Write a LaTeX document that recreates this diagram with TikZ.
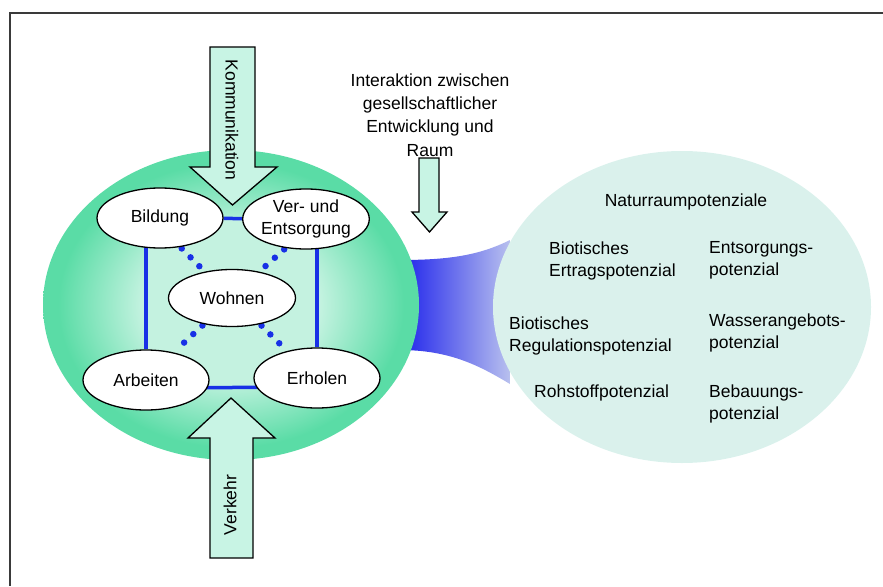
\documentclass[tikz,border=0pt]{standalone}
\usepackage{fontspec}
\setmainfont{Liberation Sans}
\usetikzlibrary{positioning, calc, shapes.geometric, backgrounds}
\definecolor{RaumGreen}{HTML}{5ADCA6}
\definecolor{RaumMint}{HTML}{CBF4E4}
\definecolor{RaumInner}{HTML}{C4F2E0}
\definecolor{RaumPale}{HTML}{DAF1EC}
\definecolor{ArrowMint}{HTML}{C8F4E4}
\definecolor{LinkBlue}{HTML}{1830E6}
\definecolor{BridgeBlue}{HTML}{1E22EC}
\definecolor{BridgeFade}{HTML}{B8C0EE}
\definecolor{FrameGray}{HTML}{3A3A3A}
\pgfdeclareradialshading{raumglow}{\pgfpoint{0bp}{0bp}}{color(0bp)=(RaumMint); color(11bp)=(RaumMint); color(23bp)=(RaumGreen); color(50bp)=(RaumGreen)}
\pgfdeclarelayer{scenery}
\pgfdeclarelayer{links}
\pgfsetlayers{scenery,links,main}

\begin{document}
\begin{tikzpicture}[x=1pt, y=-1pt,
  font=\fontsize{17.5}{22}\selectfont,
  place/.style={ellipse, draw=black, line width=1.3pt, fill=white, inner sep=0pt,
    minimum width=126pt, minimum height=60pt, align=center},
  linkbar/.style={draw=LinkBlue, line width=3.5pt},
  linkdots/.style={draw=LinkBlue, line width=6.5pt, line cap=round,
    dash pattern=on 0pt off 12.5pt, shorten <=2pt, shorten >=2pt},
  flowarrow/.style={draw=black, line width=1.3pt, fill=ArrowMint},
  potential/.style={anchor=west, align=left, inner sep=0pt}]

  \useasboundingbox (0,0) rectangle (883,586);

  % Frame
  \draw[FrameGray, line width=2pt] (883,13.5) -- (10,13.5) -- (10,586);

  % Places
  \node[place] (Bildung) at (160,218) {Bildung};
  \node[place] (Ver) at (306,219) {Ver- und\\Entsorgung};
  \node[place, minimum width=127pt, minimum height=57pt] (Wohnen) at (232,298) {Wohnen};
  \node[place] (Arbeiten) at (146,380) {Arbeiten};
  \node[place] (Erholen) at (317,378) {Erholen};

  % Arrows
  \draw[flowarrow] (210,47) -- (255,47) -- (255,167) -- (277,167) -- (232.5,205)
    -- (190,167) -- (210,167) -- cycle;
  \node[rotate=-90] (Kommunikation) at (232,120) {Kommunikation};

  \draw[flowarrow] (210,558) -- (253,558) -- (253,438) -- (275,438) -- (231,398)
    -- (188,438) -- (210,438) -- cycle;
  \node[rotate=90] (Verkehr) at (230,505) {Verkehr};

  \draw[flowarrow] (419,158) -- (439,158) -- (439,212) -- (447,212) -- (429.5,232)
    -- (412,212) -- (419,212) -- cycle;
  \node[align=center, font=\fontsize{17.5}{23.3}\selectfont] (Interaktion) at (430,115)
    {Interaktion zwischen\\gesellschaftlicher\\Entwicklung und\\Raum};

  % Naturraum
  \node[anchor=base, inner sep=0pt] (Naturraum) at (686,206) {Naturraumpotenziale};
  \node[potential] (Ertrag) at (549,260.5) {Biotisches\\Ertragspotenzial};
  \node[potential] (Entsorgung) at (709,260.5) {Entsorgungs-\\potenzial};
  \node[potential] (Regulation) at (509,336) {Biotisches\\Regulationspotenzial};
  \node[potential] (Wasser) at (709,333) {Wasserangebots-\\potenzial};
  \node[anchor=base west, inner sep=0pt] (Rohstoff) at (534,397) {Rohstoffpotenzial};
  \node[potential] (Bebauung) at (709,404) {Bebauungs-\\potenzial};

  % Links
  \begin{pgfonlayer}{links}
    \draw[linkbar] (Bildung) -- (Ver);
    \draw[linkbar] (Arbeiten.north) -- (Arbeiten.north |- Bildung.center);
    \draw[linkbar] (Erholen.north) -- (Erholen.north |- Ver.center);
    \draw[linkbar] ([yshift=-8pt]Arbeiten.center) -- ([yshift=-9pt]Erholen.center);
    \draw[linkdots] (Bildung.-55) -- (Wohnen.136);
    \draw[linkdots] (Ver.-125) -- (Wohnen.44);
    \draw[linkdots] (Wohnen.-137) -- (Arbeiten.45);
    \draw[linkdots] (Wohnen.-43) -- (Erholen.138);
  \end{pgfonlayer}

  % Scenery
  \begin{pgfonlayer}{scenery}
    \shade[left color=BridgeBlue, right color=BridgeFade]
      (400,260) .. controls (450,260) and (480,255) .. (510,240) -- (510,384)
      .. controls (480,366) and (450,350) .. (400,350) -- cycle;
    \fill[RaumPale] (682,307) ellipse [x radius=189pt, y radius=156pt];
    \shade[shading=raumglow] (231,305) ellipse [x radius=188pt, y radius=155pt];
    \fill[RaumInner] (147,220) rectangle (316,388);
  \end{pgfonlayer}
\end{tikzpicture}
\end{document}
